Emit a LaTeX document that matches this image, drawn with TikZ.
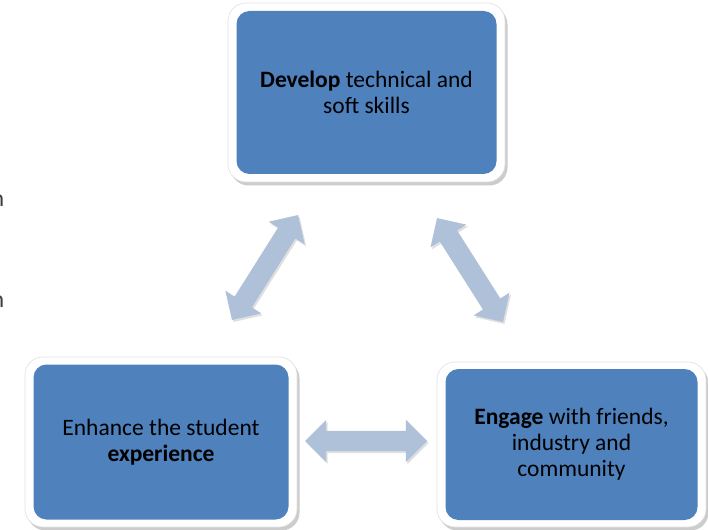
\documentclass[tikz,border=0pt]{standalone}
\usepackage{fontspec}
\setmainfont{Carlito}
\usetikzlibrary{shapes.arrows,shadows}
\definecolor{boxblue}{HTML}{4F81BD}
\definecolor{arrowblue}{HTML}{AFC0D9}
\tikzset{
  frame/.style={fill=white, draw=black!12, line width=0.6pt, rounded corners=18pt,
    drop shadow={opacity=0.4, shadow xshift=2.5pt, shadow yshift=-3.5pt},
    inner sep=0pt},
  card/.style={fill=boxblue, draw=none, rounded corners=13pt,
    font=\fontsize{23.5}{26}\selectfont, align=center, text=black, inner sep=0pt},
  blockarrow/.style={double arrow, fill=arrowblue, draw=none, inner sep=10pt,
    minimum width=42pt, double arrow head extend=11pt, double arrow head indent=0pt,
    drop shadow={opacity=0.25, shadow xshift=1.5pt, shadow yshift=-2pt}},
  edgetext/.style={font=\fontsize{24}{26}\selectfont, text=black!75, inner sep=0pt}
}
\begin{document}
\begin{tikzpicture}[x=1pt,y=-1pt]
\useasboundingbox[fill=white] (0,0) rectangle (708,529);
\node[frame, minimum width=277pt, minimum height=179pt] (devf) at (366.5,92.5) {};
\node[card, minimum width=260pt, minimum height=163pt] (dev) at (devf.center)
  {\textbf{Develop} technical and\\soft skills};
\node[frame, minimum width=272pt, minimum height=170pt] (enhf) at (161,442) {};
\node[card, minimum width=255pt, minimum height=155pt] (enh) at (enhf.center)
  {Enhance the student\\\textbf{experience}};
\node[frame, minimum width=269pt, minimum height=165pt] (engf) at (571.5,444.5) {};
\node[card, minimum width=252pt, minimum height=151pt] (eng) at (engf.center)
  {\textbf{Engage} with friends,\\industry and\\community};
\node[blockarrow, minimum height=124pt, rotate=57.8] (a1) at (265,267.5) {};
\node[blockarrow, minimum height=123pt, rotate=-57.6] (a2) at (470,270) {};
\node[blockarrow, minimum height=122pt] (a3) at (366,441) {};
\node[edgetext, anchor=base east] (n1) at (4.5,207) {n};
\node[edgetext, anchor=base east] (n2) at (4.5,307) {n};
\end{tikzpicture}
\end{document}
